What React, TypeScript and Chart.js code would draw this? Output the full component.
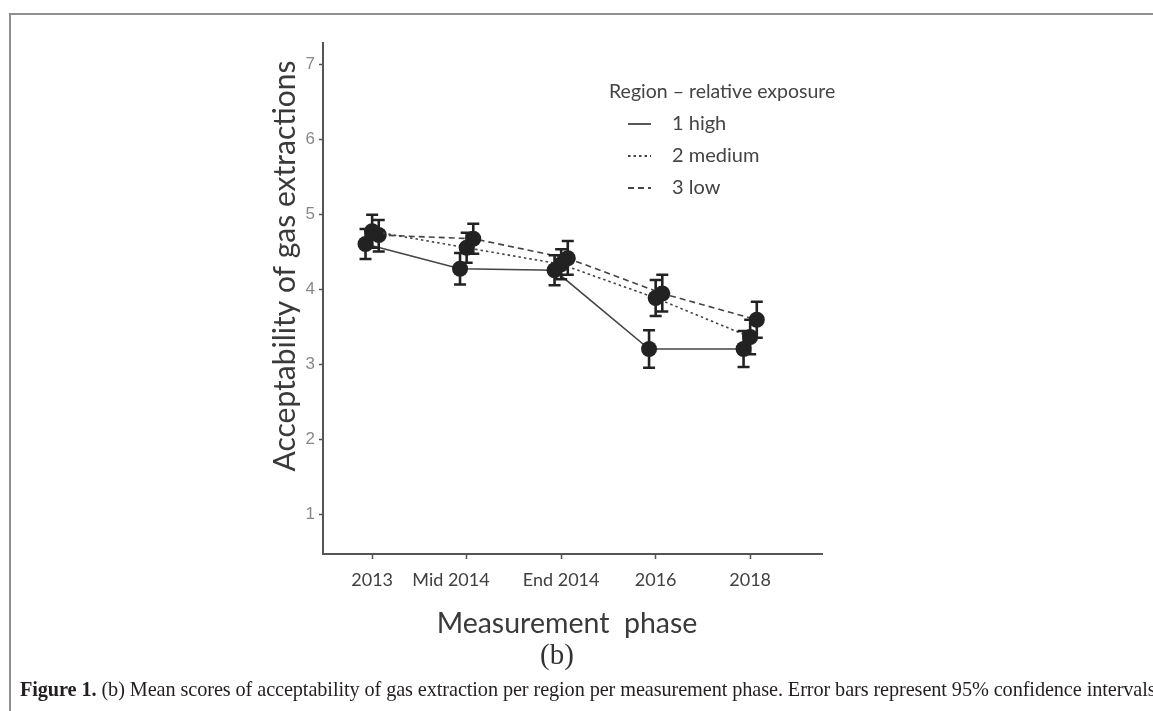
import React, { useEffect, useRef } from "react";
import { Chart, registerables } from "chart.js";

Chart.register(...registerables);

// ---- data ----
const phases = ["2013", "Mid 2014", "End 2014", "2016", "2018"];
const yTickValues = [1, 2, 3, 4, 5, 6, 7];

const seriesLabels = ["1 high", "2 medium", "3 low"];

const highMean = [4.6, 4.27, 4.25, 3.2, 3.2];
const highLower = [4.4, 4.06, 4.05, 2.95, 2.96];
const highUpper = [4.8, 4.48, 4.45, 3.45, 3.44];

const mediumMean = [4.77, 4.55, 4.33, 3.88, 3.36];
const mediumLower = [4.55, 4.35, 4.13, 3.64, 3.13];
const mediumUpper = [4.99, 4.75, 4.53, 4.12, 3.59];

const lowMean = [4.72, 4.67, 4.41, 3.94, 3.59];
const lowLower = [4.5, 4.47, 4.19, 3.7, 3.35];
const lowUpper = [4.92, 4.87, 4.64, 4.19, 3.83];

// ---- styles ----
const dodge = [-0.07, 0, 0.07];
const dashes: number[][] = [[], [2.5, 3], [6, 4]];
// trailing pad that pushes the centred "Mid 2014" label left, as in the source
const labelPad = ["", "\u2007\u2007\u2007", "", "", ""];
const LINE_COLOR = "#444444";
const POINT_COLOR = "#222222";
const SANS = "Lato, 'Open Sans', sans-serif";

const Y_W = 40;
const X_H = 50;
const AXIS_LEFT = 323;
const AXIS_RIGHT = 822;
const AXIS_TOP = 43;
const AXIS_BOTTOM = 554;

const means = [highMean, mediumMean, lowMean];
const lowers = [highLower, mediumLower, lowLower];
const uppers = [highUpper, mediumUpper, lowUpper];

const errorBarPlugin = {
  id: "errorBars",
  afterDatasetsDraw(chart: any) {
    const { ctx, scales } = chart;
    const xs = scales.x;
    const ys = scales.y;
    ctx.save();
    ctx.strokeStyle = POINT_COLOR;
    ctx.lineWidth = 2.6;
    ctx.setLineDash([]);
    means.forEach((_m, si) => {
      phases.forEach((_p, i) => {
        const px = xs.getPixelForValue(i + 1 + dodge[si]);
        const y1 = ys.getPixelForValue(lowers[si][i]);
        const y2 = ys.getPixelForValue(uppers[si][i]);
        ctx.beginPath();
        ctx.moveTo(px, y1);
        ctx.lineTo(px, y2);
        ctx.moveTo(px - 6, y1);
        ctx.lineTo(px + 6, y1);
        ctx.moveTo(px - 6, y2);
        ctx.lineTo(px + 6, y2);
        ctx.stroke();
      });
    });
    ctx.restore();
  },
};

const textPlugin = {
  id: "textDecor",
  afterDraw(chart: any) {
    const { ctx } = chart;
    ctx.save();
    // y axis title
    ctx.fillStyle = "#3a3a3a";
    ctx.font = `30px ${SANS}`;
    ctx.textAlign = "center";
    ctx.textBaseline = "middle";
    ctx.translate(285, 266);
    ctx.rotate(-Math.PI / 2);
    ctx.fillText("Acceptability of gas extractions", 0, 0);
    ctx.restore();

    ctx.save();
    ctx.fillStyle = "#3a3a3a";
    ctx.font = `28.5px ${SANS}`;
    ctx.textAlign = "center";
    ctx.textBaseline = "middle";
    ctx.fillText("Measurement  phase", 567, 624);

    // legend
    ctx.textAlign = "left";
    ctx.font = `19.5px ${SANS}`;
    ctx.fillStyle = "#444444";
    ctx.fillText("Region \u2013 relative exposure", 609, 92);
    const rowsY = [124, 156, 188];
    seriesLabels.forEach((lab, si) => {
      ctx.strokeStyle = LINE_COLOR;
      ctx.lineWidth = 1.8;
      ctx.setLineDash(dashes[si]);
      ctx.beginPath();
      ctx.moveTo(628, rowsY[si]);
      ctx.lineTo(651, rowsY[si]);
      ctx.stroke();
      ctx.setLineDash([]);
      ctx.fillStyle = "#444444";
      ctx.font = `20px ${SANS}`;
      ctx.fillText(lab, 672, rowsY[si]);
    });
    ctx.restore();
  },
};

function ChartCanvas() {
  const ref = useRef<HTMLCanvasElement | null>(null);
  useEffect(() => {
    if (!ref.current) return;
    const datasets = means.map((m, si) => ({
      label: seriesLabels[si],
      data: m.map((v, i) => ({ x: i + 1 + dodge[si], y: v })),
      borderColor: LINE_COLOR,
      borderWidth: 1.6,
      borderDash: dashes[si],
      pointRadius: 8,
      pointHoverRadius: 8,
      pointBackgroundColor: POINT_COLOR,
      pointBorderColor: POINT_COLOR,
      pointBorderWidth: 0,
      tension: 0,
      fill: false,
    }));
    const chart = new Chart(ref.current, {
      type: "line",
      data: { datasets },
      plugins: [errorBarPlugin, textPlugin],
      options: {
        animation: false,
        responsive: false,
        maintainAspectRatio: false,
        layout: {
          padding: {
            left: AXIS_LEFT - Y_W,
            top: AXIS_TOP,
            right: 1153 - AXIS_RIGHT,
            bottom: 711 - AXIS_BOTTOM - X_H,
          },
        },
        plugins: {
          legend: { display: false },
          tooltip: { enabled: false },
          title: { display: false },
        },
        scales: {
          x: {
            type: "linear",
            min: 0.48,
            max: 5.76,
            afterBuildTicks: (s: any) => {
              s.ticks = phases.map((_p, i) => ({ value: i + 1 }));
            },
            afterFit: (s: any) => {
              s.height = X_H;
            },
            ticks: {
              autoSkip: false,
              maxRotation: 0,
              padding: 10,
              color: "#404040",
              font: { family: SANS, size: 18 },
              callback: (v: any) => {
                const k = Math.round(v) - 1;
                return phases[k] !== undefined ? phases[k] + labelPad[k] : "";
              },
            },
            grid: {
              drawOnChartArea: false,
              drawTicks: true,
              tickLength: 5,
              tickWidth: 1.5,
              color: "#555555",
            },
            border: { display: true, color: "#555555", width: 2 },
          },
          y: {
            type: "linear",
            min: 0.467,
            max: 7.28,
            afterBuildTicks: (s: any) => {
              s.ticks = yTickValues.map((v) => ({ value: v }));
            },
            afterFit: (s: any) => {
              s.width = Y_W;
            },
            ticks: {
              padding: 4,
              color: "#888888",
              font: { family: "'Liberation Sans', Arial, sans-serif", size: 17 },
            },
            grid: {
              drawOnChartArea: false,
              drawTicks: true,
              tickLength: 4,
              tickWidth: 1.5,
              color: "#555555",
            },
            border: { display: true, color: "#555555", width: 2 },
          },
        },
      },
    });
    return () => chart.destroy();
  }, []);
  return (
    <canvas
      ref={ref}
      width={1153}
      height={711}
      style={{ position: "absolute", left: 0, top: 0, width: 1153, height: 711 }}
    />
  );
}

export default function App() {
  return (
    <div
      style={{
        position: "absolute",
        left: 0,
        top: 0,
        width: 1153,
        height: 711,
        background: "#ffffff",
        overflow: "hidden",
      }}
    >
      <div
        style={{
          position: "absolute",
          left: 9,
          top: 13,
          right: -10,
          bottom: -10,
          borderTop: "2px solid #8f8f8f",
          borderLeft: "2px solid #8f8f8f",
        }}
      />
      <ChartCanvas />
      <div
        style={{
          position: "absolute",
          left: 557,
          top: 638,
          transform: "translateX(-50%)",
          font: "29px 'Liberation Serif', serif",
          color: "#333333",
          whiteSpace: "nowrap",
        }}
      >
        (b)
      </div>
      <div
        style={{
          position: "absolute",
          left: 20,
          top: 678,
          whiteSpace: "nowrap",
          font: "20.3px 'Liberation Serif', serif",
          letterSpacing: "-0.1px",
          color: "#231f20",
        }}
      >
        <b>Figure 1.</b> (b) Mean scores of acceptability of gas extraction per region per measurement phase. Error bars represent 95% confidence intervals
      </div>
    </div>
  );
}
